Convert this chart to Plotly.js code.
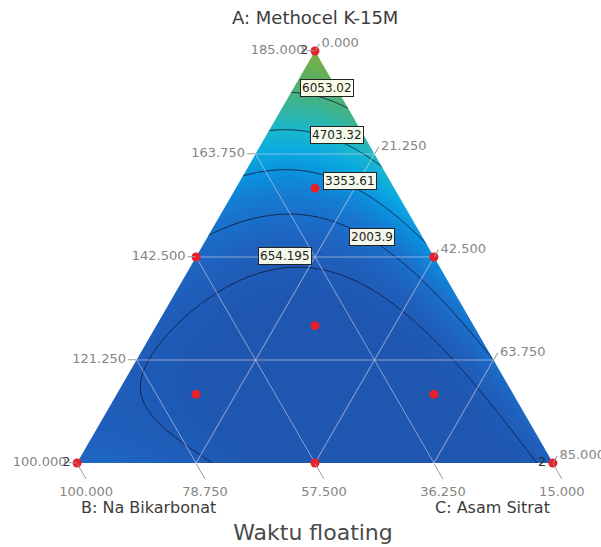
<!DOCTYPE html>
<html><head><meta charset="utf-8">
<script src="https://cdn.plot.ly/plotly-3.0.1.min.js"></script>
<style>html,body{margin:0;padding:0;background:#fff}#chart{width:601px;height:547px}</style>
</head><body><div id="chart"></div>
<script>
// Design points (A + B + C = 200)
const methocel   = [185, 100, 100, 142.5, 142.5, 100, 128.333, 156.667, 114.167, 114.167];
const bikarbonat = [15, 100, 15, 57.5, 15, 57.5, 43.333, 29.167, 71.667, 29.167];
const asamSitrat = [0, 0, 85, 0, 42.5, 42.5, 28.333, 14.167, 14.167, 56.667];
const replicateLabels = ['2', '2', '2', '', '', '', '', '', '', ''];

// Axis ticks
const aTicks = [100, 121.25, 142.5, 163.75, 185];
const bTicks = [15, 36.25, 57.5, 78.75, 100];
const cTicks = [0, 21.25, 42.5, 63.75, 85];

// Contour levels of the response "Waktu floating"
const contourLevels = [654.195, 2003.9, 3353.61, 4703.32, 6053.02];

// Full cubic mixture model in pseudo-components:
// a, b, c, ab, ac, bc, ab(a-b), ac(a-c), bc(b-c), abc
const modelCoefficients = [7716, 1515, 1209, -11951, -5204, -8049, 508, -1531, 9851, -29905];

function basis(a, b, c) {
  return [a, b, c, a*b, a*c, b*c, a*b*(a-b), a*c*(a-c), b*c*(b-c), a*b*c];
}
function response(a, b, c) {
  const f = basis(a, b, c);
  let s = 0;
  for (let i = 0; i < f.length; i++) s += modelCoefficients[i] * f[i];
  return s;
}

// Surface on a cartesian grid behind the ternary frame: y = a, x = c + a/2
const nx = 220, ny = 200, gx = [], gy = [], gz = [];
for (let i = 0; i <= nx; i++) gx.push(i / nx);
for (let j = 0; j <= ny; j++) gy.push(j / ny);
for (let j = 0; j <= ny; j++) {
  const a = gy[j], row = [];
  for (let i = 0; i <= nx; i++) { const c = gx[i] - a / 2; row.push(response(a, 1 - a - c, c)); }
  gz.push(row);
}

const colorscale = [[0,'#1e56b0'],[0.15,'#1f60bc'],[0.3,'#1874ce'],[0.42,'#0c8edc'],[0.52,'#0aa8e0'],[0.61,'#17b6d0'],[0.7,'#2eb5a8'],[0.8,'#48b27c'],[0.9,'#60b05a'],[1,'#78ae48']];
const tickFont = {family:'DejaVu Sans, sans-serif', size:13, color:'#858585'};
const gridCol = 'rgba(235,220,235,0.55)';
const tern = (min, vals, len) => ({min:min, tickmode:'array', tickvals:vals, tickformat:'.3f', ticks:'outside', ticklen:len, tickcolor:'#9a9a9a', tickfont:tickFont, showgrid:true, gridcolor:gridCol, gridwidth:1, showline:false, title:{text:''}});

// pixel helpers for label placement within the plot area
const px2x = px => (px - 77) / 476, py2y = py => (463 - py) / 412;
const labelPos = [[285,256],[372,237],[350,181],[337,135],[327,88]];

const traces = [
  {type:'heatmap', x:gx, y:gy, z:gz, zsmooth:'best', colorscale:colorscale, zmin:0, zmax:7600, showscale:false, hoverinfo:'skip'},
  {type:'contour', x:gx, y:gy, z:gz, showscale:false,
   contours:{coloring:'none', start:contourLevels[0], end:contourLevels[contourLevels.length-1], size:(contourLevels[contourLevels.length-1]-contourLevels[0])/(contourLevels.length-1)},
   line:{color:'rgba(15,25,60,0.85)', width:1}, hoverinfo:'skip'},
  // white masks outside the simplex
  {type:'scatter', x:[0,0.5,0.5,-0.2,-0.2,0], y:[0,1,1.3,1.3,-0.2,-0.2], fill:'toself', fillcolor:'#fff', line:{width:0}, mode:'lines', hoverinfo:'skip'},
  {type:'scatter', x:[1,0.5,0.5,1.2,1.2,1], y:[0,1,1.3,1.3,-0.2,-0.2], fill:'toself', fillcolor:'#fff', line:{width:0}, mode:'lines', hoverinfo:'skip'},
  {type:'scatterternary', a:methocel, b:bikarbonat, c:asamSitrat, mode:'markers+text', text:replicateLabels, textposition:'middle left',
   textfont:{family:'DejaVu Sans, sans-serif', size:13, color:'#333'}, marker:{size:9, color:'#e8202a'}, cliponaxis:false}
];

const annotations = contourLevels.map((v, i) => ({
  x:px2x(labelPos[i][0]), y:py2y(labelPos[i][1]), xref:'x', yref:'y', xanchor:'center', yanchor:'middle',
  text:String(v), showarrow:false, bgcolor:'rgba(255,255,236,0.95)', bordercolor:'#222', borderwidth:1, borderpad:1,
  font:{family:'DejaVu Sans, sans-serif', size:12, color:'#222'}
}));
const titleAnn = (text, px, py, size) => ({xref:'paper', yref:'paper', x:px2x(px), y:py2y(py), xanchor:'center', yanchor:'middle', text:text, showarrow:false, font:{family:'DejaVu Sans, sans-serif', size:size, color:'#3c3c3c'}});
annotations.push(titleAnn('A: Methocel K-15M', 315, 18, 18));
annotations.push(titleAnn('B: Na Bikarbonat', 148, 507, 16));
annotations.push(titleAnn('C: Asam Sitrat', 492, 507, 16));

Plotly.newPlot('chart', traces, {
  width:601, height:547, margin:{l:77, r:48, t:51, b:84}, paper_bgcolor:'#fff', plot_bgcolor:'#fff', showlegend:false,
  title:{text:'Waktu floating', font:{family:'DejaVu Sans, sans-serif', size:22, color:'#4a4a4a'}, x:313/601, xanchor:'center', y:1-532/547, yanchor:'middle', yref:'container'},
  xaxis:{range:[0,1], visible:false, fixedrange:true}, yaxis:{range:[0,1], visible:false, fixedrange:true},
  ternary:{sum:200, bgcolor:'rgba(0,0,0,0)', aaxis:tern(100,aTicks,8), baxis:tern(15,bTicks,18), caxis:tern(0,cTicks,8)},
  annotations:annotations
}, {staticPlot:true});
</script></body></html>
